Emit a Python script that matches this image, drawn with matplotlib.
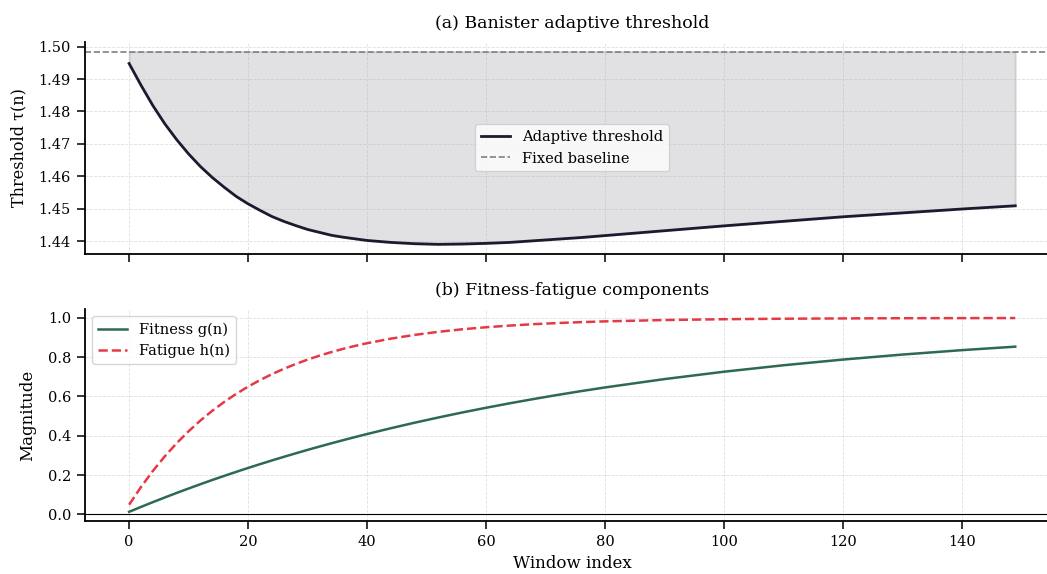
import numpy as np
import matplotlib
matplotlib.use("Agg")
import matplotlib.pyplot as plt

# values (window index -> value)
n = [0, 2, 4, 6, 8, 10, 12, 14, 16, 18, 20, 22, 24, 26, 28, 30, 32, 34, 36, 38, 40,
     44, 48, 52, 56, 60, 64, 68, 72, 76, 80,
     90, 100, 110, 120, 130, 140, 149]
tau = [1.4948, 1.4881, 1.4818, 1.4762, 1.4713, 1.4669, 1.4630, 1.4596, 1.4566,
       1.4538, 1.4515, 1.4495, 1.4476, 1.4461, 1.4448, 1.4436, 1.4427, 1.4418,
       1.4412, 1.4407, 1.4402,
       1.4396, 1.4392, 1.4390, 1.4391, 1.4393, 1.4396, 1.4401, 1.4406, 1.4411, 1.4417,
       1.4432, 1.4447, 1.4461, 1.4475, 1.4487, 1.4499, 1.4509]
fitness = [0.0127, 0.0377, 0.0621, 0.0858, 0.1090, 0.1315, 0.1535, 0.1750, 0.1958,
           0.2162, 0.2360, 0.2554, 0.2742, 0.2926, 0.3105, 0.3280, 0.3450, 0.3616,
           0.3777, 0.3935, 0.4088,
           0.4384, 0.4665, 0.4931, 0.5185, 0.5425, 0.5654, 0.5871, 0.6078, 0.6274, 0.6460,
           0.6886, 0.7261, 0.7590, 0.7880, 0.8135, 0.8360, 0.8538]
fatigue = [0.0488, 0.1393, 0.2212, 0.2953, 0.3624, 0.4231, 0.4780, 0.5276, 0.5726,
           0.6133, 0.6501, 0.6834, 0.7135, 0.7408, 0.7654, 0.7878, 0.8080, 0.8262,
           0.8428, 0.8577, 0.8713,
           0.8946, 0.9137, 0.9294, 0.9422, 0.9526, 0.9612, 0.9683, 0.9740, 0.9787, 0.9826,
           0.9894, 0.9936, 0.9961, 0.9976, 0.9986, 0.9991, 0.9995]
baseline = 1.4985

plt.rcParams['font.family'] = ['DejaVu Serif']
plt.rcParams['font.size'] = 10.5

fig, (ax1, ax2) = plt.subplots(2, 1, figsize=(10.47, 5.74), dpi=100, sharex=True)
fig.subplots_adjust(left=0.081, right=1.012, top=0.927, bottom=0.092, hspace=0.26)

dark = '#1c1a2e'
ax1.fill_between(n, tau, baseline, color=dark, alpha=0.13, linewidth=1.5)
ax1.plot(n, tau, color=dark, lw=2, label='Adaptive threshold')
ax1.axhline(baseline, color='gray', ls='--', lw=1.2, label='Fixed baseline')
ax1.set_ylabel('Threshold τ(n)', fontsize=11.5, labelpad=8)
ax1.set_title('(a) Banister adaptive threshold', fontsize=12.5, pad=10)
ax1.legend(loc='center', framealpha=0.8, fontsize=10.5)

ax2.plot(n, fitness, color='#2d6a4f', lw=1.8, label='Fitness g(n)')
ax2.plot(n, fatigue, color='#e63946', lw=1.8, ls='--', label='Fatigue h(n)')
ax2.axhline(0, color='black', lw=0.8)
ax2.set_ylim(-0.035, 1.045)
ax2.set_ylabel('Magnitude', fontsize=12, labelpad=8)
ax2.set_xlabel('Window index', fontsize=12)
ax2.set_title('(b) Fitness-fatigue components', fontsize=12.5, pad=10)
ax2.legend(loc='upper left', framealpha=0.8, fontsize=10.5)

for ax in (ax1, ax2):
    ax.grid(True, ls='--', lw=0.6, alpha=0.4)
    ax.spines['top'].set_visible(False)
    ax.spines['right'].set_visible(False)
    ax.spines['left'].set_linewidth(1.3)
    ax.spines['bottom'].set_linewidth(1.3)
    ax.tick_params(length=6, width=1.1, pad=4)

fig.savefig('out.png', dpi=100)
